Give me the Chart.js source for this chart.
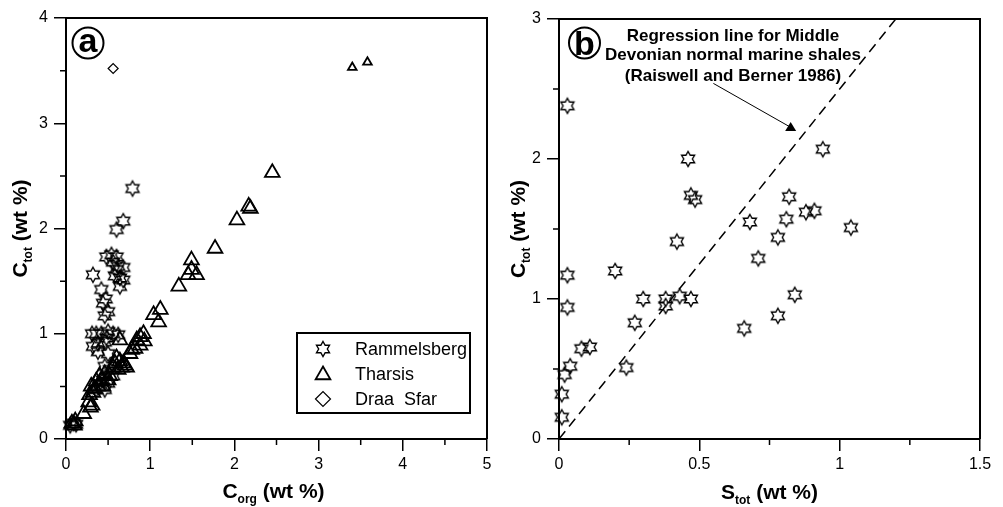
<!DOCTYPE html>
<html>
<head>
<meta charset="utf-8">
<script src="https://cdn.jsdelivr.net/npm/chart.js"></script>
<style>
  body { margin: 0; background: #fff; }
  #wrap { position: relative; width: 1003px; height: 507px; }
  canvas { position: absolute; top: 0; }
</style>
</head>
<body>
<div id="wrap">
  <canvas id="chartA" width="500" height="507" style="left:0"></canvas>
  <canvas id="chartB" width="503" height="507" style="left:500px"></canvas>
</div>
<script>
// 図(a): Corg vs Ctot
const ramCorg = [
  0.79, 0.68, 0.60, 0.48, 0.54, 0.60, 0.56, 0.62, 0.68, 0.60,
  0.32, 0.58, 0.64, 0.68, 0.64, 0.42, 0.44, 0.47, 0.50, 0.46,
  0.31, 0.36, 0.42, 0.50, 0.56, 0.62, 0.48, 0.38, 0.46, 0.32,
  0.38, 0.50, 0.46, 0.52, 0.44, 0.50, 0.46, 0.36, 0.40, 0.56,
  0.09, 0.05, 0.12
]
const ramCtot = [
  2.38, 2.07, 1.99, 1.73, 1.75, 1.73, 1.68, 1.64, 1.63, 1.61,
  1.56, 1.55, 1.53, 1.51, 1.45, 1.42, 1.29, 1.33, 1.21, 1.17,
  1.00, 1.00, 1.00, 1.02, 1.00, 0.99, 0.96, 0.91, 0.92, 0.88,
  0.83, 0.81, 0.69, 0.66, 0.56, 0.53, 0.47, 0.47, 0.50, 0.60,
  0.15, 0.13, 0.14
]
const thCorg = [
  3.40, 3.58, 2.45, 2.17, 2.19, 2.03, 1.77, 1.49, 1.49, 1.45,
  1.55, 1.34, 1.12, 1.04, 1.10, 0.92, 0.88, 0.84, 0.88, 0.93,
  0.78, 0.82, 0.76, 0.64, 0.60, 0.64, 0.68, 0.70, 0.66, 0.72,
  0.58, 0.62, 0.56, 0.52, 0.50, 0.46, 0.40, 0.42, 0.36, 0.38,
  0.34, 0.44, 0.30, 0.32, 0.28, 0.27, 0.31, 0.29, 0.21, 0.11,
  0.07, 0.10
]
const thCtot = [
  3.53, 3.58, 2.53, 2.21, 2.19, 2.08, 1.81, 1.70, 1.61, 1.56,
  1.56, 1.45, 1.23, 1.18, 1.11, 1.00, 0.97, 0.94, 0.89, 0.93,
  0.85, 0.86, 0.81, 0.94, 0.77, 0.74, 0.72, 0.70, 0.68, 0.68,
  0.72, 0.66, 0.68, 0.60, 0.56, 0.62, 0.60, 0.55, 0.55, 0.50,
  0.48, 0.50, 0.50, 0.44, 0.42, 0.35, 0.32, 0.30, 0.24, 0.17,
  0.15, 0.13
]
const draaCorg = [0.56]
const draaCtot = [3.52]

// 図(b): Stot vs Ctot (Rammelsberg)
const ramStot = [
  0.03, 0.46, 0.47, 0.485, 0.94, 0.82, 0.88, 0.91, 0.68, 0.81,
  1.04, 0.42, 0.78, 0.71, 0.03, 0.20, 0.03, 0.30, 0.38, 0.38,
  0.43, 0.47, 0.84, 0.27, 0.78, 0.66, 0.08, 0.11, 0.04, 0.02,
  0.24, 0.01, 0.01
]
const ramCtotB = [
  2.38, 2.00, 1.74, 1.71, 2.07, 1.73, 1.62, 1.63, 1.55, 1.57,
  1.51, 1.41, 1.44, 1.29, 1.17, 1.20, 0.94, 1.00, 1.00, 0.95,
  1.02, 1.00, 1.03, 0.83, 0.88, 0.79, 0.645, 0.657, 0.52, 0.46,
  0.51, 0.32, 0.155
]
// 回帰線 (Raiswell and Berner 1986)
const regStot = [0, 1.2]
const regCtot = [0, 3]

const legendLabels = ['Rammelsberg', 'Tharsis', 'Draa  Sfar']
const noteLines = ['Regression line for Middle', 'Devonian normal marine shales', '(Raiswell and Berner 1986)']

const FONT = '"Liberation Sans", Arial, sans-serif'

// 配列 -> 点データ
function toPoints(xs, ys) {
  return xs.map((x, i) => ({ x: x, y: ys[i] }))
}

// 六芒星マーカー
function makeStar(R) {
  let c = document.createElement('canvas')
  c.width = 20
  c.height = 20
  let g = c.getContext('2d')
  g.beginPath()
  for (let i = 0; i < 12; i++) {
    let a = -Math.PI / 2 + i * Math.PI / 6
    let r = i % 2 == 0 ? R : R / Math.sqrt(3)
    let px = 10 + r * Math.cos(a)
    let py = 10 + r * Math.sin(a)
    if (i == 0) g.moveTo(px, py)
    else g.lineTo(px, py)
  }
  g.closePath()
  g.lineWidth = 1.4
  g.lineJoin = 'miter'
  g.strokeStyle = '#000'
  g.stroke()
  return c
}
const star = makeStar(7.5)

// 軸タイトル (下付き文字つき)
function drawTitle(ctx, main, sub, rest, x, y, rotate) {
  ctx.save()
  ctx.translate(x, y)
  if (rotate) ctx.rotate(-Math.PI / 2)
  ctx.fillStyle = '#000'
  ctx.textBaseline = 'alphabetic'
  ctx.textAlign = 'left'
  let big = 'bold 21px ' + FONT
  let small = 'bold 12px ' + FONT
  ctx.font = big
  let w1 = ctx.measureText(main).width
  let w3 = ctx.measureText(rest).width
  ctx.font = small
  let w2 = ctx.measureText(sub).width
  let sx = -(w1 + w2 + w3) / 2
  ctx.font = big
  ctx.fillText(main, sx, 0)
  ctx.font = small
  ctx.fillText(sub, sx + w1, 5)
  ctx.font = big
  ctx.fillText(rest, sx + w1 + w2, 0)
  ctx.restore()
}

// 丸囲みラベル
function drawCircleLabel(ctx, letter, cx, cy, baseY) {
  ctx.save()
  ctx.beginPath()
  ctx.arc(cx, cy, 15.5, 0, Math.PI * 2)
  ctx.lineWidth = 2
  ctx.strokeStyle = '#000'
  ctx.stroke()
  ctx.font = 'bold 34px ' + FONT
  ctx.textAlign = 'center'
  ctx.textBaseline = 'alphabetic'
  ctx.fillStyle = '#000'
  ctx.fillText(letter, cx, baseY)
  ctx.restore()
}

// 枠と副目盛り
function drawFrame(chart, xMinor, yMinor) {
  let ctx = chart.ctx
  let a = chart.chartArea
  let xs = chart.scales.x
  let ys = chart.scales.y
  ctx.save()
  ctx.strokeStyle = '#000'
  ctx.lineWidth = 2
  ctx.beginPath()
  ctx.moveTo(a.left, a.top)
  ctx.lineTo(a.right, a.top)
  ctx.lineTo(a.right, a.bottom)
  ctx.stroke()
  ctx.lineWidth = 1.5
  ctx.beginPath()
  for (let v = xs.min + xMinor; v < xs.max; v += xMinor * 2) {
    let px = xs.getPixelForValue(v)
    ctx.moveTo(px, a.bottom)
    ctx.lineTo(px, a.bottom + 6)
  }
  for (let v = ys.min + yMinor; v < ys.max; v += yMinor * 2) {
    let py = ys.getPixelForValue(v)
    ctx.moveTo(a.left, py)
    ctx.lineTo(a.left - 6, py)
  }
  ctx.stroke()
  ctx.restore()
}

function axisOpts(min, max, step, fitKey, fitVal) {
  return {
    type: 'linear',
    min: min,
    max: max,
    ticks: {
      stepSize: step,
      color: '#000',
      font: { family: FONT, size: 16 },
      padding: fitKey == 'width' ? 6 : 4,
      callback: v => String(v)
    },
    grid: { drawOnChartArea: false, tickLength: 12, color: '#000', lineWidth: 1.5 },
    border: { color: '#000', width: 2 },
    afterFit: s => { s[fitKey] = fitVal }
  }
}

// 図(a)
const pluginA = {
  id: 'decorA',
  afterDraw(chart) {
    let ctx = chart.ctx
    let a = chart.chartArea
    drawFrame(chart, 0.5, 0.5)
    drawTitle(ctx, 'C', 'org', ' (wt %)', (a.left + a.right) / 2 - 3, 498, false)
    drawTitle(ctx, 'C', 'tot', ' (wt %)', 27, (a.top + a.bottom) / 2, true)
    drawCircleLabel(ctx, 'a', a.left + 22, a.top + 25, a.top + 34)

    // 凡例
    let bx = a.right - 190
    let by = a.top + 315
    ctx.save()
    ctx.strokeStyle = '#000'
    ctx.lineWidth = 2
    ctx.strokeRect(bx, by, 173, 80)
    ctx.font = '18px ' + FONT
    ctx.fillStyle = '#000'
    ctx.textBaseline = 'middle'
    ctx.textAlign = 'left'
    let rows = [by + 16, by + 41, by + 66]
    let sx = bx + 26
    legendLabels.forEach((t, i) => ctx.fillText(t, bx + 58, rows[i] + 1))
    ctx.drawImage(star, sx - 10, rows[0] - 10)
    ctx.lineWidth = 1.8
    ctx.beginPath()
    let r = 8.5
    ctx.moveTo(sx, rows[1] - r + 1)
    ctx.lineTo(sx + r * 0.866, rows[1] + r * 0.5 + 1)
    ctx.lineTo(sx - r * 0.866, rows[1] + r * 0.5 + 1)
    ctx.closePath()
    ctx.stroke()
    ctx.lineWidth = 1.2
    ctx.beginPath()
    ctx.moveTo(sx - 7.5, rows[2])
    ctx.lineTo(sx, rows[2] - 7.5)
    ctx.lineTo(sx + 7.5, rows[2])
    ctx.lineTo(sx, rows[2] + 7.5)
    ctx.closePath()
    ctx.stroke()
    ctx.restore()
  }
}

new Chart(document.getElementById('chartA'), {
  type: 'scatter',
  data: {
    datasets: [
      {
        label: legendLabels[0],
        data: toPoints(ramCorg, ramCtot),
        pointStyle: star,
        clip: false
      },
      {
        label: legendLabels[1],
        data: toPoints(thCorg, thCtot),
        pointStyle: 'triangle',
        pointRadius: c => (c.raw && c.raw.y > 3 ? 5 : 8.5),
        borderColor: '#000',
        borderWidth: 1.8,
        backgroundColor: 'rgba(0,0,0,0)',
        clip: false
      },
      {
        label: legendLabels[2],
        data: toPoints(draaCorg, draaCtot),
        pointStyle: 'rectRot',
        pointRadius: 5,
        borderColor: '#000',
        borderWidth: 1.2,
        backgroundColor: 'rgba(0,0,0,0)',
        clip: false
      }
    ]
  },
  options: {
    responsive: false,
    animation: false,
    events: [],
    devicePixelRatio: 1,
    layout: { padding: { top: 18, right: 13, left: 0, bottom: 0 } },
    scales: {
      x: axisOpts(0, 5, 1, 'height', 68),
      y: axisOpts(0, 4, 1, 'width', 66)
    },
    plugins: { legend: { display: false }, tooltip: { enabled: false } }
  },
  plugins: [pluginA]
})

// 図(b)
const pluginB = {
  id: 'decorB',
  afterDraw(chart) {
    let ctx = chart.ctx
    let a = chart.chartArea
    let xs = chart.scales.x
    let ys = chart.scales.y
    drawFrame(chart, 0.25, 0.5)
    drawTitle(ctx, 'S', 'tot', ' (wt %)', (a.left + a.right) / 2, 499, false)
    drawTitle(ctx, 'C', 'tot', ' (wt %)', 25, (a.top + a.bottom) / 2, true)
    drawCircleLabel(ctx, 'b', a.left + 25.5, a.top + 24, a.top + 36)

    // 注記
    ctx.save()
    ctx.fillStyle = '#000'
    ctx.font = 'bold 17px ' + FONT
    ctx.textAlign = 'center'
    ctx.textBaseline = 'middle'
    let tx = xs.getPixelForValue(0.62)
    let tys = [2.874, 2.738, 2.59]
    noteLines.forEach((t, i) => ctx.fillText(t, tx, ys.getPixelForValue(tys[i])))
    // 矢印
    let x0 = xs.getPixelForValue(0.55)
    let y0 = ys.getPixelForValue(2.54)
    let x1 = xs.getPixelForValue(0.845)
    let y1 = ys.getPixelForValue(2.20)
    ctx.strokeStyle = '#000'
    ctx.lineWidth = 1
    ctx.beginPath()
    ctx.moveTo(x0, y0)
    ctx.lineTo(x1 - 6, y1 - 4)
    ctx.stroke()
    ctx.beginPath()
    ctx.moveTo(x1 - 11, y1)
    ctx.lineTo(x1, y1)
    ctx.lineTo(x1 - 5.5, y1 - 9)
    ctx.closePath()
    ctx.fill()
    ctx.restore()
  }
}

new Chart(document.getElementById('chartB'), {
  type: 'scatter',
  data: {
    datasets: [
      {
        label: legendLabels[0],
        data: toPoints(ramStot, ramCtotB),
        pointStyle: star,
        clip: false
      },
      {
        label: 'regression',
        data: toPoints(regStot, regCtot),
        showLine: true,
        pointRadius: 0,
        borderColor: '#000',
        borderWidth: 1.5,
        borderDash: [10, 6]
      }
    ]
  },
  options: {
    responsive: false,
    animation: false,
    events: [],
    devicePixelRatio: 1,
    layout: { padding: { top: 19, right: 23, left: 0, bottom: 0 } },
    scales: {
      x: axisOpts(0, 1.5, 0.5, 'height', 68),
      y: axisOpts(0, 3, 1, 'width', 59)
    },
    plugins: { legend: { display: false }, tooltip: { enabled: false } }
  },
  plugins: [pluginB]
})
</script>
</body>
</html>
